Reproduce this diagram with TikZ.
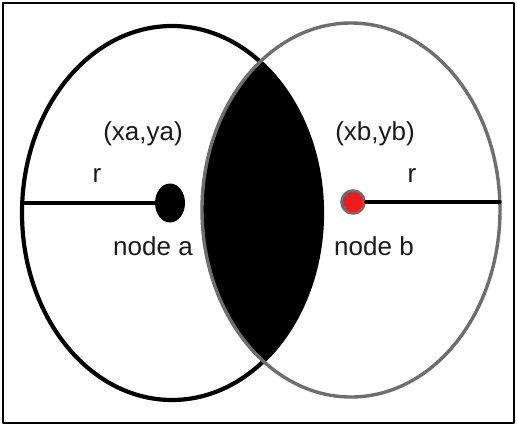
\documentclass[tikz,border=0pt]{standalone}
\usepackage{fontspec}
\setmainfont{Liberation Sans}
\usetikzlibrary{shapes.geometric}
\definecolor{Ink}{HTML}{1A1A1A}
\definecolor{RingGray}{HTML}{6E6E6E}
\definecolor{DotRed}{HTML}{EE1C1C}
\tikzset{
  label text/.style={text=Ink,inner sep=0pt,font=\fontsize{26}{26}\selectfont},
  ring a/.style={draw=black,line width=4.2pt},
  ring b/.style={draw=RingGray,line width=3.4pt},
  radius line/.style={draw=black,line width=3.2pt}
}
\begin{document}
\begin{tikzpicture}[x=1pt,y=-1pt,line cap=round,line join=round]
  \useasboundingbox (0,0) rectangle (517,425);
  \fill[white] (0,0) rectangle (517,425);
  \draw[black,line width=2pt] (3,3) rectangle (514,423);

  % overlap of the two ranges
  \begin{scope}
    \clip (172,213) ellipse [x radius=150, y radius=187];
    \fill[black] (351,210) ellipse [x radius=149, y radius=187];
  \end{scope}

  % range circles
  \draw[ring a] (172,213) ellipse [x radius=150, y radius=187];
  \draw[ring b] (351,210) ellipse [x radius=149, y radius=187];

  % nodes
  \node[ellipse, fill=black, inner sep=0pt, minimum width=30pt, minimum height=39pt] (nodea) at (170,203) {};
  \node[circle, fill=DotRed, draw=RingGray, line width=2.6pt, inner sep=0pt, minimum size=23pt] (nodeb) at (353,202) {};
  \coordinate (aend) at (22,203);
  \coordinate (bend) at (500,202);
  \draw[radius line] (aend) -- (nodea.west);
  \draw[radius line] (nodeb.east) -- (bend);

  % labels
  \node[label text] (posa) at (143,134) {(xa,ya)};
  \node[label text] (posb) at (375,134) {(xb,yb)};
  \node[label text] (ra) at (97,176) {r};
  \node[label text] (rb) at (412,176) {r};
  \node[label text] (namea) at (153,246) {node a};
  \node[label text] (nameb) at (374,246) {node b};
\end{tikzpicture}
\end{document}
